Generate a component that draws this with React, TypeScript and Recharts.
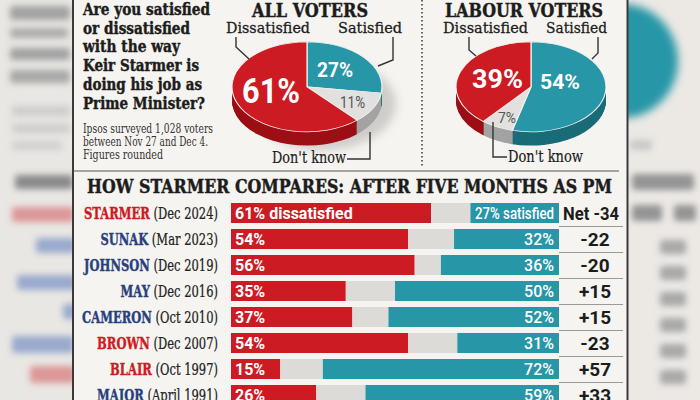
import React from "react";
import { PieChart, Pie, Cell, BarChart, Bar, XAxis, YAxis, LabelList } from "recharts";

// colours sampled from the print
const RED = "#cc1b22";
const TEAL = "#2796a7";
const GREY = "#dcdbd8";
const NAVY = "#27407c";
const INK = "#1c1c1c";

// pies: clockwise from 12 o'clock
const pieSlices = ["Satisfied", "Don't know", "Dissatisfied"];
const allVoters = [27, 11, 61];
const labourVoters = [54, 7, 39];
const topColors = [TEAL, "#e2e1df", RED];
const sideColors = ["#1b6c79", "#a3a3a3", "#9c1016"];

// comparison table
const leaders = ["STARMER", "SUNAK", "JOHNSON", "MAY", "CAMERON", "BROWN", "BLAIR", "MAJOR"];
const dates = ["(Dec 2024)", "(Mar 2023)", "(Dec 2019)", "(Dec 2016)", "(Oct 2010)", "(Dec 2007)", "(Oct 1997)", "(April 1991)"];
const parties = ["lab", "con", "con", "con", "con", "lab", "lab", "con"];
const dissatisfied = [61, 54, 56, 35, 37, 54, 15, 26];
const satisfied = [27, 32, 36, 50, 52, 31, 72, 59];
const netLabels = ["-34", "-22", "-20", "+15", "+15", "-23", "+57", "+33"];

const rows = leaders.map((name, i) => ({
  name,
  dis: dissatisfied[i],
  gap: 100 - dissatisfied[i] - satisfied[i],
  sat: satisfied[i],
}));

const R = 75;
const SQUASH = 45 / 75;
const DEPTH = Math.round(14 / SQUASH);

const Pie3D = ({ values, cx, cy }: { values: number[]; cx: number; cy: number }) => {
  const data = pieSlices.map((name, i) => ({ name, value: values[i] }));
  const C = R + 3;
  const W = 2 * C;
  const H = C + R + DEPTH + 4;
  const layers: number[] = [];
  for (let k = DEPTH; k >= 1; k--) layers.push(k);
  return (
    <div
      style={{
        position: "absolute",
        left: cx - C,
        top: cy - C * SQUASH,
        width: W,
        height: H,
        transform: `scaleY(${SQUASH})`,
        transformOrigin: "0 0",
      }}
    >
      <PieChart width={W} height={H} margin={{ top: 0, right: 0, bottom: 0, left: 0 }}>
        {layers.map((k) => (
          <Pie
            key={k}
            data={data}
            dataKey="value"
            cx={C}
            cy={C + k}
            outerRadius={R}
            startAngle={90}
            endAngle={-270}
            stroke="none"
            isAnimationActive={false}
          >
            {data.map((d, i) => (
              <Cell key={d.name} fill={sideColors[i]} />
            ))}
          </Pie>
        ))}
        <Pie
          data={data}
          dataKey="value"
          cx={C}
          cy={C}
          outerRadius={R}
          startAngle={90}
          endAngle={-270}
          stroke="#f4f1ec"
          strokeWidth={1.2}
          isAnimationActive={false}
        >
          {data.map((d, i) => (
            <Cell key={d.name} fill={topColors[i]} />
          ))}
        </Pie>
      </PieChart>
    </div>
  );
};

const renderNameTick = (props: any) => {
  const { y, payload } = props;
  const i = leaders.indexOf(payload.value);
  const c = parties[i] === "lab" ? RED : NAVY;
  return (
    <text
      transform={`translate(143, ${y + 5.5}) scale(0.72, 1)`}
      textAnchor="end"
      fontFamily="DejaVu Serif"
      fontSize={16}
    >
      <tspan fontWeight="bold" fill={c} stroke={c} strokeWidth={0.4}>
        {payload.value}
      </tspan>
      <tspan fill="#222" stroke="#222" strokeWidth={0.25}>{" " + dates[i]}</tspan>
    </text>
  );
};

const renderDisLabel = (p: any) => {
  const { x, y, height, index, value } = p;
  const txt = index === 0 ? `${value}% dissatisfied` : `${value}%`;
  return (
    <text x={x + 4} y={y + height / 2 + 6} fill="#fff" fontFamily="Roboto" fontWeight={700} fontSize={16}>
      {txt}
    </text>
  );
};

const renderSatLabel = (p: any) => {
  const { x, y, width, height, index, value } = p;
  const end = x + width;
  const first = index === 0;
  return (
    <g>
      <text
        x={end - 5}
        y={y + height / 2 + 6}
        fill="#fff"
        textAnchor="end"
        fontFamily="Roboto"
        fontWeight={500}
        fontSize={16}
        {...(first ? { textLength: 79, lengthAdjust: "spacingAndGlyphs" } : {})}
      >
        {first ? `${value}% satisfied` : `${value}%`}
      </text>
      <text
        x={end + (first ? 32 : 36)}
        y={y + height / 2 + 6.5}
        fill={INK}
        textAnchor="middle"
        fontFamily="Roboto"
        fontWeight={700}
        fontSize={19}
        {...(first ? { textLength: 56, lengthAdjust: "spacingAndGlyphs" } : {})}
      >
        {first ? `Net ${netLabels[index]}` : netLabels[index]}
      </text>
      <line x1={end} x2={end + 64} y1={y + height + 3.5} y2={y + height + 3.5} stroke="#9a9a9a" strokeWidth={1} />
    </g>
  );
};

const blur = (left: number, top: number, width: number, height: number, color: string, r = 3) => (
  <div
    style={{
      position: "absolute",
      left,
      top,
      width,
      height,
      background: color,
      filter: `blur(${r}px)`,
      borderRadius: 3,
    }}
  />
);

const T = (props: any) => <text fontFamily="DejaVu Serif" fill={INK} lengthAdjust="spacingAndGlyphs" {...props} />;

export default function App() {
  const heavy = { fontWeight: "bold" as const, stroke: INK, strokeWidth: 0.45 };
  return (
    <div
      style={{
        position: "absolute",
        left: 0,
        top: 0,
        width: 700,
        height: 400,
        overflow: "hidden",
        background: "#f6f4f0",
      }}
    >
      {/* blurred page edges */}
      <div style={{ position: "absolute", left: 0, top: 0, width: 73, height: 400, background: "#e9e7e3", overflow: "hidden" }}>
        {blur(10, 6, 60, 14, "#a2a2a2")}
        {blur(10, 28, 58, 10, "#acacac")}
        {blur(10, 48, 60, 12, "#a2a2a2")}
        {blur(10, 70, 60, 13, "#a8a8a8")}
        {blur(12, 106, 58, 10, "#cdcdcd")}
        {blur(12, 124, 58, 9, "#cdcdcd")}
        {blur(12, 141, 50, 9, "#d0d0d0")}
        {blur(15, 175, 58, 14, "#8a8a8a")}
        {blur(12, 207, 62, 15, "#dc9797")}
        {blur(36, 238, 40, 15, "#9aaacd")}
        {blur(17, 275, 60, 15, "#9aaacd")}
        {blur(63, 304, 14, 15, "#9aaacd")}
        {blur(12, 336, 62, 17, "#9aaacd")}
        {blur(30, 366, 46, 17, "#dc9797")}
      </div>
      <div style={{ position: "absolute", left: 628, top: 0, width: 72, height: 400, background: "#ece9e5", overflow: "hidden" }}>
        <div
          style={{
            position: "absolute",
            left: -62,
            top: 4,
            width: 112,
            height: 114,
            borderRadius: "50%",
            background: TEAL,
            filter: "blur(4px)",
          }}
        />
        {blur(2, 140, 22, 10, "#c8c8c8")}
        {blur(4, 174, 62, 16, "#949494")}
        {blur(4, 205, 30, 16, "#949494")}
        {blur(46, 205, 22, 16, "#949494")}
        {[240, 266, 292, 318, 344, 370].map((y) => (
          <React.Fragment key={y}>{blur(32, y, 26, 14, "#a8a8a8")}</React.Fragment>
        ))}
      </div>

      {/* soft shadow behind the first pie */}
      <div
        style={{
          position: "absolute",
          left: 250,
          top: 58,
          width: 146,
          height: 92,
          borderRadius: "50%",
          background: "#cfcdca",
          filter: "blur(4px)",
        }}
      />

      <Pie3D values={allVoters} cx={307} cy={87} />
      <Pie3D values={labourVoters} cx={531} cy={87} />

      <div style={{ position: "absolute", left: 75, top: 200 }}>
        <BarChart
          width={553}
          height={208}
          data={rows}
          layout="vertical"
          margin={{ top: 0, right: 69, bottom: 0, left: 0 }}
          barSize={20}
        >
          <XAxis type="number" domain={[0, 100]} hide />
          <YAxis
            type="category"
            dataKey="name"
            width={156}
            axisLine={false}
            tickLine={false}
            interval={0}
            tick={renderNameTick}
          />
          <Bar dataKey="dis" stackId="a" fill={RED} isAnimationActive={false}>
            <LabelList dataKey="dis" content={renderDisLabel} />
          </Bar>
          <Bar dataKey="gap" stackId="a" fill={GREY} isAnimationActive={false} />
          <Bar dataKey="sat" stackId="a" fill={TEAL} isAnimationActive={false}>
            <LabelList dataKey="sat" content={renderSatLabel} />
          </Bar>
        </BarChart>
      </div>

      <svg width={700} height={400} style={{ position: "absolute", left: 0, top: 0, pointerEvents: "none" }}>
        {/* frame */}
        <line x1={73} x2={73} y1={0} y2={400} stroke="#3a3a3a" strokeWidth={2} />
        <line x1={627.5} x2={627.5} y1={0} y2={400} stroke="#3a3a3a" strokeWidth={2} />
        <line x1={422} x2={422} y1={0} y2={168} stroke="#444" strokeWidth={1.6} strokeDasharray="1.6 2.4" />
        <line x1={73} x2={619} y1={171} y2={171} stroke="#555" strokeWidth={1.2} />

        {/* question */}
        <T x={83} y={15} fontSize={17} {...heavy} textLength={127}>Are you satisfied</T>
        <T x={83} y={33.5} fontSize={17} {...heavy} textLength={107}>or dissatisfied</T>
        <T x={83} y={52} fontSize={17} {...heavy} textLength={97}>with the way</T>
        <T x={83} y={71} fontSize={17} {...heavy} textLength={116}>Keir Starmer is</T>
        <T x={83} y={90} fontSize={17} {...heavy} textLength={119}>doing his job as</T>
        <T x={83} y={109} fontSize={17} {...heavy} textLength={122}>Prime Minister?</T>
        <T x={83} y={133} fontSize={12} fill="#333" textLength={130}>Ipsos surveyed 1,028 voters</T>
        <T x={83} y={146} fontSize={12} fill="#333" textLength={125}>between Nov 27 and Dec 4.</T>
        <T x={83} y={159} fontSize={12} fill="#333" textLength={80}>Figures rounded</T>

        {/* all voters */}
        <T x={252} y={16.7} fontSize={18} {...heavy} textLength={116}>ALL VOTERS</T>
        <T x={226} y={33} fontSize={15} stroke={INK} strokeWidth={0.3} textLength={84}>Dissatisfied</T>
        <T x={338} y={33} fontSize={15} stroke={INK} strokeWidth={0.3} textLength={64}>Satisfied</T>
        <T x={272} y={163} fontSize={17} stroke={INK} strokeWidth={0.2} textLength={74}>Don't know</T>
        <polyline points="236,37 236,47 249,59" fill="none" stroke="#333" strokeWidth={1.4} />
        <polyline points="393,37 393,60 378,66" fill="none" stroke="#333" strokeWidth={1.4} />
        <polyline points="347,159 370,159 370,132" fill="none" stroke="#333" strokeWidth={1.4} />
        <text x={242} y={103} fill="#fff" fontFamily="Roboto" fontWeight={700} fontSize={35} textLength={58} lengthAdjust="spacingAndGlyphs">
          {`${allVoters[2]}%`}
        </text>
        <text x={317} y={77} fill="#fff" fontFamily="Roboto" fontWeight={700} fontSize={21} textLength={36} lengthAdjust="spacingAndGlyphs">
          {`${allVoters[0]}%`}
        </text>
        <text x={340} y={108} fill="#555" fontFamily="Roboto" fontSize={17} textLength={25} lengthAdjust="spacingAndGlyphs">
          {`${allVoters[1]}%`}
        </text>

        {/* labour voters */}
        <T x={445} y={16.7} fontSize={18} {...heavy} textLength={158}>LABOUR VOTERS</T>
        <T x={443} y={33} fontSize={15} stroke={INK} strokeWidth={0.3} textLength={85}>Dissatisfied</T>
        <T x={546} y={33} fontSize={15} stroke={INK} strokeWidth={0.3} textLength={61}>Satisfied</T>
        <T x={508} y={162} fontSize={17} stroke={INK} strokeWidth={0.2} textLength={75}>Don't know</T>
        <polyline points="469,37 469,50 476,56" fill="none" stroke="#333" strokeWidth={1.4} />
        <polyline points="598,37 598,53 592,59" fill="none" stroke="#333" strokeWidth={1.4} />
        <polyline points="493,122 493,157 507,157" fill="none" stroke="#333" strokeWidth={1.4} />
        <text x={472} y={88} fill="#fff" fontFamily="Roboto" fontWeight={700} fontSize={25} textLength={51} lengthAdjust="spacingAndGlyphs">
          {`${labourVoters[2]}%`}
        </text>
        <text x={540} y={89} fill="#fff" fontFamily="Roboto" fontWeight={700} fontSize={20} textLength={40} lengthAdjust="spacingAndGlyphs">
          {`${labourVoters[0]}%`}
        </text>
        <text x={498} y={122.5} fill="#555" fontFamily="Roboto" fontSize={15} textLength={18} lengthAdjust="spacingAndGlyphs">
          {`${labourVoters[1]}%`}
        </text>

        {/* table heading */}
        <T x={87} y={193} fontSize={18} {...heavy} textLength={525}>HOW STARMER COMPARES: AFTER FIVE MONTHS AS PM</T>
      </svg>
    </div>
  );
}
